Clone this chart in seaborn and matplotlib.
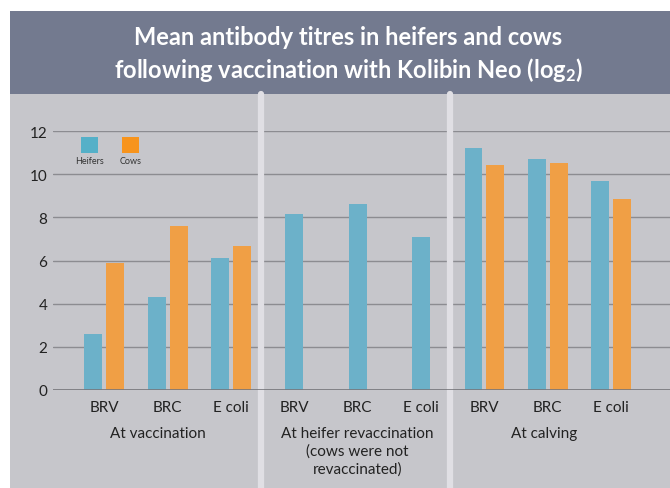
import numpy as np
import pandas as pd
import seaborn as sns
import matplotlib.pyplot as plt
from matplotlib.patches import Rectangle

# data
antigens = ["BRV", "BRC", "E coli"]
stages = ["At vaccination", "At heifer revaccination\n(cows were not\nrevaccinated)", "At calving"]
heifers = [2.6, 4.3, 6.1, 8.17, 8.62, 7.08, 11.19, 10.69, 9.67]
cows = [5.88, 7.62, 6.67, np.nan, np.nan, np.nan, 10.42, 10.5, 8.84]

keys = [f"{s}|{a}" for s in range(len(stages)) for a in antigens]
tick_labels = antigens * len(stages)

df = pd.DataFrame({
    "key": keys * 2,
    "value": heifers + cows,
    "group": ["Heifers"] * len(keys) + ["Cows"] * len(keys),
})
both = df[~df["key"].str.startswith("1|")]
single = df[df["key"].str.startswith("1|") & (df["group"] == "Heifers")]

blue = "#6cb1c9"
orange = "#f09f45"
panel = "#c6c6cb"
banner = "#737a8f"
sep = "#e0dfe4"
grid = "#8c8c91"

sns.set_style("white")
plt.rcParams["font.family"] = ["Lato", "DejaVu Sans"]
plt.rcParams["mathtext.default"] = "regular"

fig = plt.figure(figsize=(6.7, 4.89), dpi=100)
fig.patch.set_facecolor("white")
fig.add_artist(Rectangle((10 / 670, 0), 1, 1 - 95 / 489, transform=fig.transFigure,
                         facecolor=panel, edgecolor="none", zorder=0))
fig.add_artist(Rectangle((10 / 670, 1 - 95 / 489), 1, 83 / 489, transform=fig.transFigure,
                         facecolor=banner, edgecolor="none", zorder=0))
fig.text(0.52, 1 - 55 / 489, "Mean antibody titres in heifers and cows\nfollowing vaccination with Kolibin Neo (log$_2$)",
         ha="center", va="center", color="white", fontsize=17, fontweight="bold", linespacing=1.3)

ax = fig.add_axes([53 / 670, 1 - 391 / 489, 617 / 670, 259 / 489])
ax.set_facecolor("none")

sns.barplot(data=both, x="key", y="value", hue="group", order=keys,
            hue_order=["Heifers", "Cows"], palette=[blue, orange], saturation=1,
            width=0.69, gap=0.18, legend=False, linewidth=0, ax=ax, zorder=3)
sns.barplot(data=single, x="key", y="value", order=keys, color=blue, saturation=1,
            width=0.28, linewidth=0, ax=ax, zorder=3)

ax.set_xlim(-0.81, 8.93)
ax.set_ylim(0, 12)
ax.set_yticks([0, 2, 4, 6, 8, 10, 12])
ax.grid(axis="y", color=grid, linewidth=1.0, zorder=1)
ax.set_axisbelow(True)
for s in ax.spines.values():
    s.set_visible(False)
ax.axhline(0, color="#77777c", linewidth=1.2, zorder=4)
ax.tick_params(axis="both", length=0, labelsize=11, colors="#222222")
ax.tick_params(axis="x", pad=7)
ax.tick_params(axis="y", pad=4)
ax.set_xticks(range(len(keys)))
ax.set_xticklabels(tick_labels)
ax.set_xlabel("")
ax.set_ylabel("")

# vertical separators between stages
for xpos in [2.47, 5.46]:
    ax.axvline(xpos, ymin=-0.38, ymax=1.143, color=sep, linewidth=4.5,
               clip_on=False, zorder=2)

# stage labels
for i, st in enumerate(stages):
    ax.text(3 * i + 1 - 0.15 * (i == 0) - 0.05 * (i == 2), -1.68, st, ha="center", va="top",
            fontsize=11, color="#222222", linespacing=1.3)

# legend: squares with labels underneath
for x0, lab, col in [(81, "Heifers", "#55b0c8"), (122, "Cows", "#f7941d")]:
    fig.add_artist(Rectangle((x0 / 670, 1 - 154 / 489), 17 / 670, 16 / 489,
                             transform=fig.transFigure, facecolor=col, edgecolor="none"))
    fig.text((x0 + 8.5) / 670, 1 - 161 / 489, lab, ha="center", va="center",
             fontsize=6.5, color="#333333")

fig.savefig("out.png", dpi=100)
